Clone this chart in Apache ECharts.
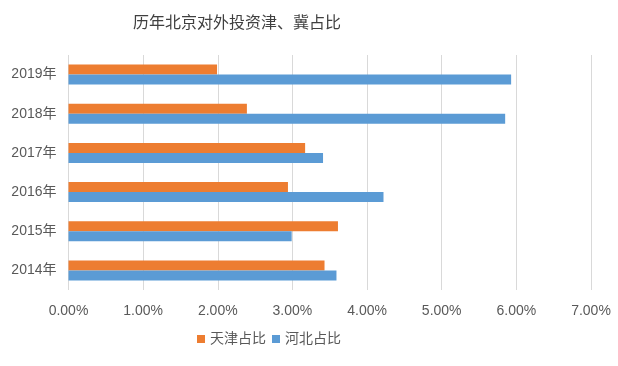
<!DOCTYPE html>
<html><head><meta charset="utf-8">
<script src="https://cdn.jsdelivr.net/npm/echarts@6/dist/echarts.min.js"></script>
<style>html,body{margin:0;padding:0;background:#fff}#c{width:618px;height:366px}</style>
</head><body><div id="c"></div>
<script>
const categories = ['2014年','2015年','2016年','2017年','2018年','2019年'];
const tianjin = [3.43, 3.61, 2.94, 3.17, 2.39, 1.99];
const hebei = [3.59, 2.99, 4.22, 3.41, 5.85, 5.93];
const xTicks = [0, 1, 2, 3, 4, 5, 6, 7];
const title = '历年北京对外投资津、冀占比';

const chart = echarts.init(document.getElementById('c'));
const font = '"Liberation Sans", "Noto Sans CJK SC", sans-serif';
chart.setOption({
  animation: false,
  textStyle: {fontFamily: font},
  title: {text: title, left: 232, top: 9, textAlign: 'center',
    textStyle: {fontSize: 16, fontWeight: 'normal', color: '#404040', fontFamily: '"Noto Sans CJK SC", sans-serif'}},
  legend: {data: ['天津占比','河北占比'], bottom: 15, left: 192, itemWidth: 8, itemHeight: 8, itemGap: 6,
    icon: 'rect', textStyle: {fontSize: 14, color: '#595959', fontFamily: font}},
  grid: {left: 68.5, right: 27, top: 55, bottom: 76, containLabel: false},
  xAxis: {type: 'value', min: xTicks[0], max: xTicks[xTicks.length-1], interval: 1,
    axisLine: {show: false}, axisTick: {show: false},
    splitLine: {lineStyle: {color: '#d9d9d9', width: 1}},
    axisLabel: {formatter: v => v.toFixed(2) + '%', fontSize: 14, color: '#595959', margin: 14, fontFamily: font}},
  yAxis: {type: 'category', data: categories,
    axisLine: {show: false}, axisTick: {show: false},
    axisLabel: {fontSize: 14, color: '#595959', margin: 12, fontFamily: font}},
  series: [
    {name: '天津占比', type: 'bar', data: tianjin, itemStyle: {color: '#ED7D31'}, barWidth: 10, barGap: '0%'},
    {name: '河北占比', type: 'bar', data: hebei, itemStyle: {color: '#5B9BD5'}, barWidth: 10, barGap: '0%'}
  ]
});
</script></body></html>
